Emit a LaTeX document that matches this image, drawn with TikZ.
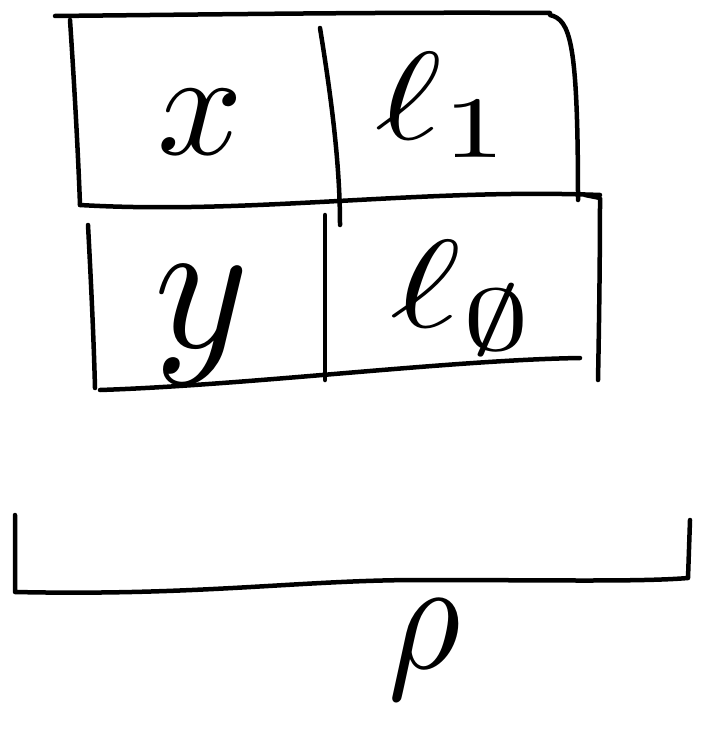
\documentclass[tikz,border=0pt]{standalone}
\usepackage{amssymb}
\begin{document}
\begin{tikzpicture}[x=1pt,y=-1pt,
  pen/.style={line width=4.5pt,line cap=round,line join=round,black},
  lbl/.style={inner sep=0pt}]
\useasboundingbox (0,0) rectangle (712,738);
% top row
\draw[pen] (55,16) .. controls (250,14) and (400,12) .. (550,13);
\draw[pen] (70,20) .. controls (74,80) and (78,150) .. (80,205);
\draw[pen] (320,28) .. controls (330,90) and (340,160) .. (340,225);
\draw[pen] (550,15) .. controls (570,20) and (578,40) .. (578,200);
% middle line
\draw[pen] (80,205) .. controls (250,215) and (420,188) .. (600,195);
% bottom row
\draw[pen] (88,225) .. controls (92,300) and (94,350) .. (95,388);
\draw[pen] (325,215) -- (325,380);
\draw[pen] (585,195) -- (600,198) .. controls (600,260) and (599,330) .. (598,380);
\draw[pen] (100,390) .. controls (250,385) and (450,360) .. (580,358);
% labels
\node[lbl] (x) at (200,122) {\scalebox{15}[15]{$x$}};
\node[lbl] (l1) at (445,105) {\scalebox{16}[12.5]{$\ell_1$}};
\node[lbl] (y) at (202,325) {\scalebox{18}[19]{$y$}};
\node[lbl] (l0) at (465,298) {\scalebox{17}[12.5]{$\ell_{\emptyset}$}};
% bracket
\draw[pen] (15,515) -- (15,592) .. controls (200,596) and (300,580) .. (420,580) .. controls (550,580) and (640,582) .. (688,578) -- (690,520);
\node[lbl] (rho) at (425,650) {\scalebox{14}[16]{$\rho$}};
\end{tikzpicture}
\end{document}
